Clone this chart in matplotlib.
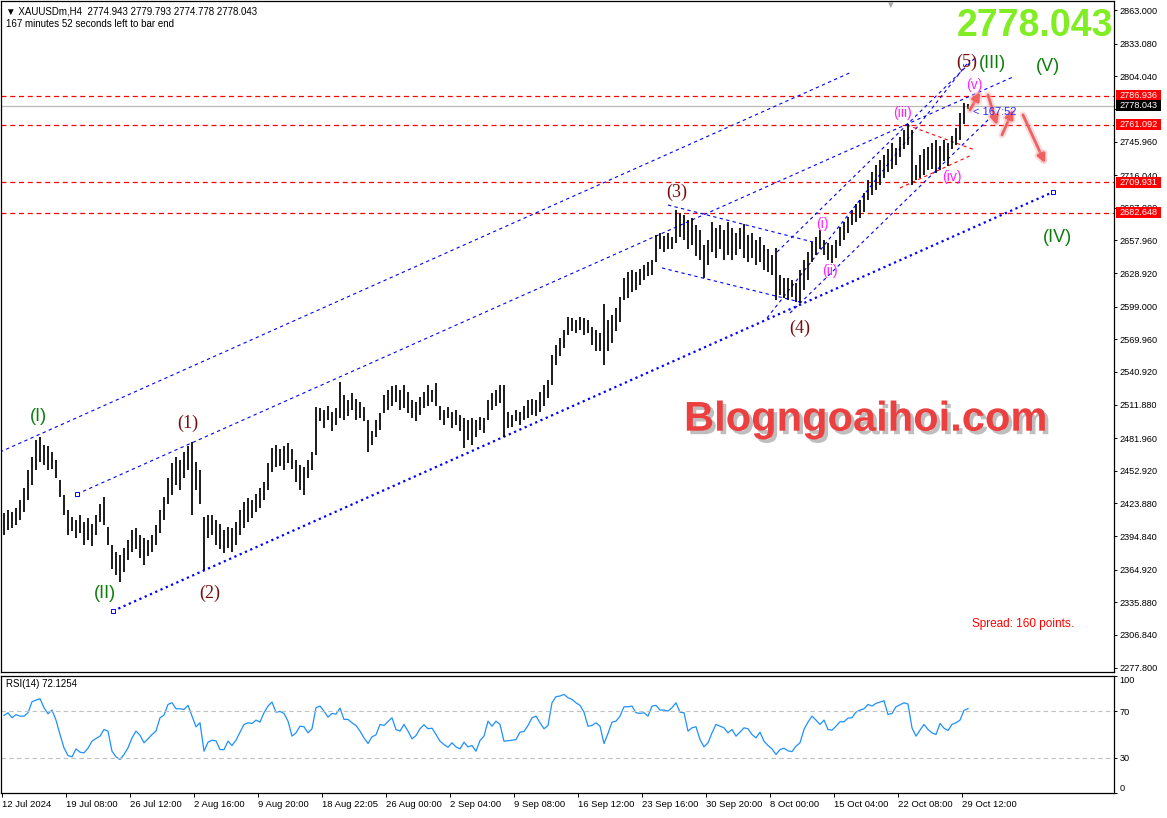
import matplotlib
matplotlib.use("Agg")
import matplotlib.pyplot as plt
import matplotlib.patheffects as pe
import matplotlib.transforms as mtrans
from matplotlib.patches import Rectangle
import numpy as np

plt.rcParams['font.family'] = ['Liberation Sans', 'DejaVu Sans']

# ---- data: H4 bars (every second slot) ----
highs = [2415, 2418, 2416, 2420, 2427, 2438, 2454, 2465, 2480, 2483,
         2476, 2475, 2470, 2463, 2445, 2431, 2418, 2412, 2409, 2414,
         2407, 2411, 2406, 2414, 2423, 2430, 2403, 2387, 2381, 2378,
         2384, 2391, 2400, 2402, 2396, 2393, 2391, 2396, 2405, 2418,
         2430, 2447, 2460, 2465, 2463, 2470, 2475, 2479, 2461, 2454,
         2412, 2414, 2414, 2409, 2406, 2400, 2403, 2402, 2407, 2418,
         2425, 2429, 2427, 2432, 2438, 2443, 2460, 2473, 2476, 2472,
         2475, 2478, 2472, 2463, 2458, 2456, 2463, 2470, 2510, 2509,
         2507, 2511, 2505, 2509, 2532, 2520, 2516, 2522, 2517, 2514,
         2510, 2498, 2488, 2498, 2504, 2520, 2525, 2528, 2529, 2525,
         2529, 2523, 2516, 2514, 2519, 2523, 2529, 2525, 2531, 2511,
         2507, 2510, 2505, 2507, 2503, 2500, 2498, 2500, 2498, 2501,
         2500, 2516, 2522, 2525, 2529, 2529, 2505, 2503, 2507, 2505,
         2511, 2516, 2517, 2516, 2523, 2529, 2534, 2556, 2565, 2571,
         2578, 2590, 2589, 2587, 2590, 2589, 2587, 2581, 2578, 2576,
         2601, 2587, 2592, 2598, 2608, 2625, 2630, 2632, 2630, 2633,
         2636, 2639, 2641, 2663, 2665, 2662, 2665, 2661, 2685, 2682,
         2681, 2676, 2678, 2672, 2667, 2654, 2658, 2674, 2669, 2672,
         2667, 2674, 2669, 2665, 2669, 2673, 2663, 2665, 2658, 2661,
         2654, 2650, 2645, 2651, 2627, 2625, 2625, 2623, 2620, 2632,
         2641, 2648, 2657, 2661, 2667, 2658, 2656, 2654, 2658, 2670,
         2674, 2679, 2685, 2690, 2694, 2700, 2712, 2719, 2725, 2730,
         2734, 2739, 2745, 2740, 2750, 2756, 2762, 2756, 2725, 2734,
         2739, 2741, 2745, 2747, 2742, 2747, 2745, 2751, 2758, 2771,
         2780, 2779.793]
lows = [2396, 2400, 2402, 2405, 2409, 2416, 2427, 2440, 2454, 2461,
        2458, 2454, 2455, 2447, 2430, 2414, 2396, 2399, 2393, 2398,
        2387, 2391, 2386, 2396, 2407, 2405, 2387, 2366, 2360, 2354,
        2363, 2374, 2381, 2383, 2375, 2369, 2377, 2381, 2387, 2398,
        2409, 2423, 2431, 2440, 2436, 2447, 2454, 2414, 2436, 2423,
        2365, 2393, 2396, 2387, 2383, 2380, 2384, 2381, 2387, 2396,
        2402, 2407, 2411, 2416, 2420, 2427, 2436, 2452, 2456, 2457,
        2454, 2460, 2455, 2443, 2436, 2431, 2447, 2454, 2467, 2497,
        2491, 2498, 2488, 2494, 2500, 2498, 2502, 2507, 2498, 2500,
        2497, 2470, 2476, 2483, 2489, 2504, 2507, 2511, 2514, 2507,
        2509, 2504, 2500, 2497, 2503, 2509, 2511, 2514, 2511, 2498,
        2494, 2500, 2491, 2494, 2488, 2473, 2480, 2476, 2483, 2489,
        2487, 2498, 2507, 2511, 2513, 2483, 2491, 2492, 2497, 2494,
        2498, 2500, 2503, 2502, 2505, 2511, 2518, 2529, 2547, 2555,
        2562, 2574, 2577, 2576, 2578, 2574, 2576, 2565, 2560, 2560,
        2547, 2560, 2567, 2577, 2585, 2605, 2607, 2612, 2614, 2618,
        2623, 2626, 2627, 2639, 2650, 2648, 2650, 2650, 2656, 2661,
        2658, 2650, 2654, 2644, 2641, 2625, 2636, 2648, 2642, 2650,
        2641, 2645, 2641, 2645, 2650, 2642, 2639, 2642, 2636, 2639,
        2632, 2630, 2627, 2605, 2609, 2607, 2605, 2608, 2603, 2602,
        2614, 2623, 2639, 2645, 2650, 2645, 2641, 2638, 2642, 2653,
        2658, 2665, 2672, 2674, 2678, 2683, 2694, 2698, 2703, 2707,
        2714, 2719, 2722, 2725, 2732, 2739, 2743, 2707, 2712, 2714,
        2716, 2721, 2722, 2718, 2721, 2729, 2724, 2739, 2743, 2747,
        2762, 2774.778]
rsi = [66.3, 68.6, 64.3, 67.0, 65.7, 65.7, 68.6, 78.0, 79.4, 80.6,
       72.9, 67.7, 70.9, 62.3, 50.0, 38.6, 32.0, 30.9, 37.7, 34.9,
       34.3, 38.3, 44.3, 46.6, 48.6, 54.3, 52.9, 35.7, 30.9, 28.6,
       32.9, 38.6, 47.1, 52.9, 49.4, 42.9, 46.3, 50.0, 52.9, 64.3,
       66.6, 75.7, 77.1, 72.0, 72.0, 71.4, 74.9, 65.7, 56.6, 60.0,
       35.7, 43.4, 45.1, 44.6, 37.1, 37.1, 44.3, 40.6, 45.1, 52.0,
       58.6, 60.0, 59.4, 62.3, 60.6, 68.6, 74.3, 77.7, 69.1, 69.7,
       68.0, 61.4, 48.6, 51.4, 57.1, 56.6, 51.4, 54.9, 72.9, 74.3,
       70.0, 64.9, 68.0, 67.4, 72.6, 62.9, 62.9, 60.0, 57.7, 52.9,
       47.1, 42.3, 48.0, 49.7, 58.6, 57.7, 61.1, 64.3, 54.3, 52.9,
       58.6, 52.9, 46.3, 49.1, 54.9, 58.3, 54.9, 55.4, 50.0, 44.3,
       41.4, 39.1, 42.9, 39.4, 37.7, 43.4, 39.4, 40.6, 35.7, 44.9,
       48.6, 61.4, 57.1, 61.4, 58.6, 44.3, 44.6, 45.1, 45.7, 52.0,
       52.6, 57.7, 64.3, 65.7, 60.0, 54.9, 57.7, 77.1, 82.3, 82.9,
       84.3, 81.4, 80.0, 77.1, 74.9, 69.1, 57.1, 57.7, 60.0, 57.1,
       42.3, 50.9, 60.6, 61.4, 65.7, 73.7, 73.7, 74.3, 68.6, 68.0,
       68.6, 65.7, 74.3, 74.9, 70.9, 70.9, 70.0, 72.9, 77.1, 69.1,
       68.6, 52.9, 55.7, 56.6, 45.7, 39.4, 42.9, 51.4, 58.6, 57.1,
       55.7, 51.4, 54.3, 48.6, 52.0, 55.7, 54.9, 50.0, 47.1, 52.0,
       44.3, 40.6, 37.7, 32.9, 37.1, 38.3, 36.0, 35.4, 40.0, 42.9,
       54.3, 60.6, 65.7, 62.3, 58.6, 62.3, 54.3, 53.7, 57.1, 60.9,
       60.9, 64.0, 64.3, 69.1, 70.9, 72.0, 75.7, 74.3, 76.6, 77.7,
       78.9, 67.1, 68.0, 73.7, 75.4, 77.1, 76.0, 55.7, 48.6, 53.7,
       58.6, 54.3, 51.4, 50.0, 59.4, 55.4, 53.4, 58.6, 60.0, 62.3,
       70.6, 72.1254]

date_labels = ['12 Jul 2024', '19 Jul 08:00', '26 Jul 12:00', '2 Aug 16:00',
               '9 Aug 20:00', '18 Aug 22:05', '26 Aug 00:00', '2 Sep 04:00',
               '9 Sep 08:00', '16 Sep 12:00', '23 Sep 16:00', '30 Sep 20:00',
               '8 Oct 00:00', '15 Oct 04:00', '22 Oct 08:00', '29 Oct 12:00']
price_ticks = [2863.000, 2833.080, 2804.040, 2775.000, 2745.960, 2716.040,
               2687.000, 2657.960, 2628.920, 2599.000, 2569.960, 2540.920,
               2511.880, 2481.960, 2452.920, 2423.880, 2394.840, 2364.920,
               2335.880, 2306.840, 2277.800]
hidden_ticks = [2775.000]   # fully covered by the bid box in the reference
red_levels = [2786.936, 2761.092, 2709.931, 2682.648]
bid = 2778.043

# trendlines (H4 bar index, price)
ch_outer = ([-1, 425], [2469.7, 2808.0])
ch_mid = ([37.5, 505.5], [2432.3, 2803.5])
ch_low = ([55.5, 525.5], [2328.2, 2701.1])
tri_up = ([333, 405.5], [2689.5, 2656.6])
tri_dn = ([330, 399], [2633.5, 2603.2])
wv_up = ([387.5, 486.5], [2647.7, 2820.4])
wv_steep = ([382.5, 484], [2589.0, 2818.6])
wv_dn = ([394, 494], [2593.4, 2767.0])
red_tri_a = ([452.5, 486.5], [2760.7, 2738.5])
red_tri_b = ([449, 485], [2704.7, 2734.1])

waves_green = [('(I)', 18, 2500.9), ('(II)', 51.5, 2344.2), ('(III)', 495, 2815.9),
               ('(V)', 523, 2812.4), ('(IV)', 527.5, 2660.2)]
waves_red = [('(1)', 93, 2495.5), ('(2)', 104, 2344.2), ('(3)', 337.5, 2701.1),
             ('(4)', 399, 2580.1), ('(5)', 482.5, 2816.8)]
waves_pink = [('(i)', 410, 2672.6), ('(ii)', 414, 2630.8), ('(iii)', 450, 2771.4),
              ('(iv)', 475, 2714.5), ('(v)', 486, 2796.4)]
arrows = [((484, 2774.1), (489, 2790.1)), ((493, 2787.4), (497.5, 2760.8)),
          ((500, 2751.9), (505.5, 2774.1)), ((510.5, 2769.7), (521.5, 2726.9))]

W, H = 1167, 818
fig = plt.figure(figsize=(W / 100, H / 100), dpi=100)
fig.patch.set_facecolor('white')


def px_axes(x0, y0, x1, y1):
    return fig.add_axes([x0 / W, 1 - y1 / H, (x1 - x0) / W, (y1 - y0) / H])


ax = px_axes(1, 1, 1114, 672)
ar = px_axes(1, 676, 1114, 793)
bars = np.arange(len(highs)) * 2 + 1

for a in (ax, ar):
    a.set_xlim(-0.5, 556)
    for s in a.spines.values():
        s.set_color('black')
        s.set_linewidth(0.9)
    a.yaxis.tick_right()
    a.tick_params(axis='y', direction='out', length=2.5, width=0.7, pad=1.5,
                  labelsize=6.6, colors='black')

ax.set_ylim(2273.9, 2871.1)
ax.set_xticks([])
ax.set_yticks(price_ticks)
ax.set_yticklabels(['' if p in hidden_ticks else f'{p:.3f}' for p in price_ticks])

# horizontal levels
for lv in red_levels:
    ax.axhline(lv, color='red', lw=0.9, ls=(0, (4, 3)), zorder=2)
ax.axhline(bid, color='#b8b8b8', lw=0.9, zorder=2)

# price bars
ax.vlines(bars, lows, highs, color='black', lw=1.25, zorder=3)

# channels / trendlines
thin = dict(color='blue', lw=0.8, ls=(0, (3, 3)), zorder=2)
for ln in (ch_outer, ch_mid, tri_up, tri_dn, wv_up, wv_steep, wv_dn):
    ax.plot(*ln, **thin)
ax.plot(*ch_low, color='blue', lw=1.6, ls=(0, (1, 1.6)), zorder=2)
ax.plot(ch_low[0], ch_low[1], ls='none', marker='s', ms=2.5, mfc='white',
        mec='blue', mew=0.7, zorder=3)
ax.plot(ch_mid[0][0], ch_mid[1][0], ls='none', marker='s', ms=2.5, mfc='white',
        mec='blue', mew=0.7, zorder=3)
for ln in (red_tri_a, red_tri_b):
    ax.plot(*ln, color='red', lw=0.8, ls=(0, (3, 3)), zorder=2)

# wave labels
for t, x, y in waves_green:
    ax.text(x, y, t, color='#0b7d0b', fontsize=13, ha='center', va='center', zorder=5)
for t, x, y in waves_red:
    ax.text(x, y, t, color='#7a0c0c', fontsize=13, ha='center', va='center',
            family=['Liberation Serif', 'DejaVu Serif'], zorder=5)
for t, x, y in waves_pink:
    ax.text(x, y, t, color='#ff22ff', fontsize=10, ha='center', va='center', zorder=5)

# projection arrows
glow = [pe.Stroke(linewidth=5, foreground='#f6a8a8', alpha=0.4), pe.Normal()]
for (x0, y0), (x1, y1) in arrows:
    ax.annotate('', xy=(x1, y1), xytext=(x0, y0), zorder=6,
                arrowprops=dict(arrowstyle='-|>', color='#ef6060', lw=2.0,
                                mutation_scale=12, shrinkA=0, shrinkB=0,
                                path_effects=glow))
ax.text(485.5, 2772.3, '< 167:52', color='#2a2aff', fontsize=8, ha='left',
        va='center', zorder=6)

# right side price boxes
bt = mtrans.blended_transform_factory(ax.transAxes, ax.transData)
bw = 45 / 1113
bh = 11 * 0.89
for lv, fc in [(red_levels[0], 'red'), (bid, 'black'), (red_levels[1], 'red'),
               (red_levels[2], 'red'), (red_levels[3], 'red')]:
    ax.add_patch(Rectangle((1.0015, lv - bh / 2), bw, bh, transform=bt, fc=fc,
                           ec='none', clip_on=False, zorder=10))
    ax.text(1.0045, lv, f'{lv:.3f}', transform=bt, color='white', fontsize=6.6,
            ha='left', va='center', clip_on=False, zorder=11)

# texts
ax.text(0.0045, 0.985, '\u25bc XAUUSDm,H4  2774.943 2779.793 2774.778 2778.043',
        transform=ax.transAxes, fontsize=7, ha='left', va='center')
ax.text(0.0045, 0.966, '167 minutes 52 seconds left to bar end',
        transform=ax.transAxes, fontsize=7, ha='left', va='center')
ax.text(0.799, 0.994, '\u25bc', transform=ax.transAxes, fontsize=7,
        color='#a8a8a8', ha='center', va='center')
ax.text(0.929, 0.963, '2778.043', transform=ax.transAxes, fontsize=27,
        fontweight='bold', color='#80ee22', ha='center', va='center', zorder=8)
ax.text(0.8725, 0.0715, 'Spread: 160 points.', transform=ax.transAxes,
        fontsize=8.5, color='red', ha='left', va='center')
ax.text(0.777, 0.376, 'Blogngoaihoi.com', transform=ax.transAxes, fontsize=30,
        fontweight='bold', color='#ec4040', ha='center', va='center', zorder=7,
        path_effects=[pe.withSimplePatchShadow(offset=(2.5, -2.5),
                                               shadow_rgbFace='#707070', alpha=0.45)])

# RSI panel
ar.set_ylim(0, 100)
ar.plot(bars, rsi, color='#1e90ff', lw=0.9)
for lv in (70, 30):
    ar.axhline(lv, color='#c0c0c0', lw=0.8, ls=(0, (4, 3)))
ar.set_yticks([100, 70, 30, 0])
ar.set_yticklabels(['100', '70', '30', '0'])
labs = ar.get_yticklabels()
labs[0].set_va('top')
labs[3].set_va('bottom')
ar.text(0.0045, 0.93, 'RSI(14) 72.1254', transform=ar.transAxes, fontsize=7,
        ha='left', va='center')
ar.set_xticks(np.arange(len(date_labels)) * 32)
ar.set_xticklabels(date_labels)
ar.tick_params(axis='x', direction='out', length=3, width=0.7, pad=2,
               labelsize=6.8, colors='black')
for lab in ar.get_xticklabels():
    lab.set_ha('left')

fig.savefig('out.png', dpi=100)
